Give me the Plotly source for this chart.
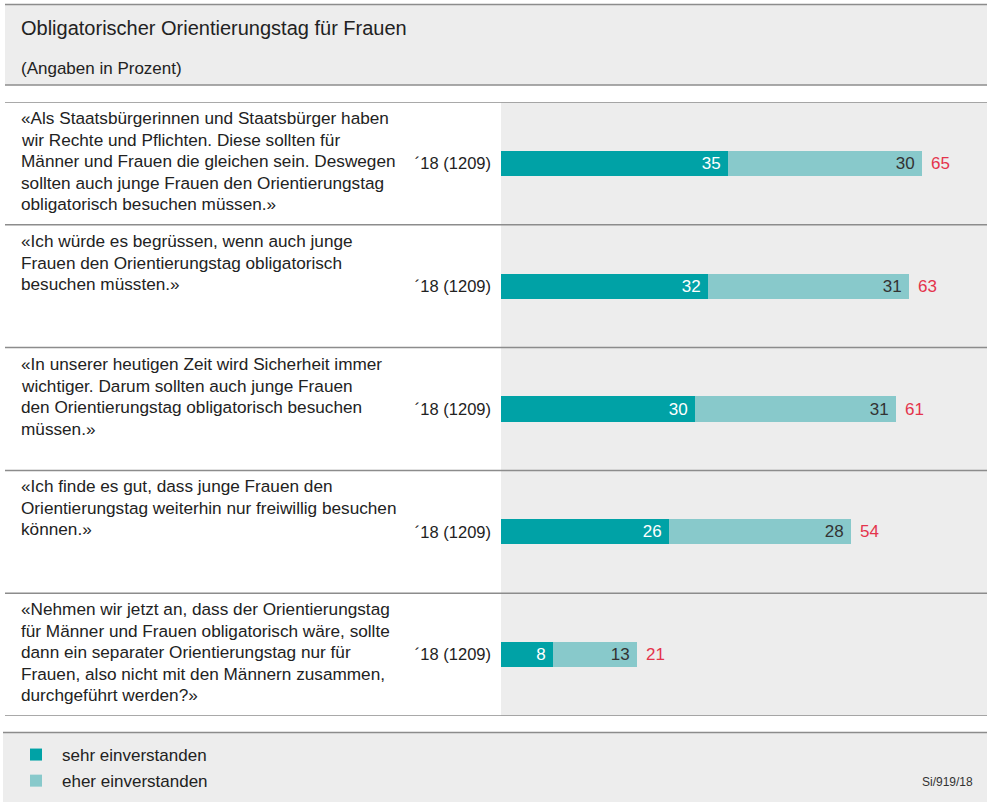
import plotly.graph_objects as go

# --- data ---
statements = [
    ["«Als Staatsbürgerinnen und Staatsbürger haben",
     "wir Rechte und Pflichten. Diese sollten für",
     "Männer und Frauen die gleichen sein. Deswegen",
     "sollten auch junge Frauen den Orientierungstag",
     "obligatorisch besuchen müssen.»"],
    ["«Ich würde es begrüssen, wenn auch junge",
     "Frauen den Orientierungstag obligatorisch",
     "besuchen müssten.»"],
    ["«In unserer heutigen Zeit wird Sicherheit immer",
     "wichtiger. Darum sollten auch junge Frauen",
     "den Orientierungstag obligatorisch besuchen",
     "müssen.»"],
    ["«Ich finde es gut, dass junge Frauen den",
     "Orientierungstag weiterhin nur freiwillig besuchen",
     "können.»"],
    ["«Nehmen wir jetzt an, dass der Orientierungstag",
     "für Männer und Frauen obligatorisch wäre, sollte",
     "dann ein separater Orientierungstag nur für",
     "Frauen, also nicht mit den Männern zusammen,",
     "durchgeführt werden?»"],
]
row_labels = ["´18 (1209)"] * 5
sehr = [35, 32, 30, 26, 8]
eher = [30, 31, 31, 28, 13]
totals = [65, 63, 61, 54, 21]

title = "Obligatorischer Orientierungstag für Frauen"
subtitle = "(Angaben in Prozent)"
source = "Si/919/18"

# --- styling ---
W, H = 987, 803
FONT = "Liberation Sans, Arial, Helvetica, sans-serif"
DARK = "#00a2a6"
LIGHT = "#88c9cb"
RED = "#e4344c"
GREY_BG = "#ededed"
LINE = "#8c8c8c"
TXT = "#222222"

px = lambda x: x / W
py = lambda y: 1 - y / H

rows = list(range(len(sehr)))

fig = go.Figure()
fig.add_trace(go.Bar(
    y=rows, x=sehr, orientation="h", name="sehr einverstanden", legendgroup="a",
    marker=dict(color=DARK, line=dict(width=0)), width=0.205,
    texttemplate="%{x}\u2005", textposition="inside", insidetextanchor="end",
    textfont=dict(color="white", size=17, family=FONT), hoverinfo="skip",
))
fig.add_trace(go.Bar(
    y=rows, x=eher, orientation="h", name="eher einverstanden", legendgroup="b",
    marker=dict(color=LIGHT, line=dict(width=0)), width=0.205,
    texttemplate="%{x}\u2005", textposition="inside", insidetextanchor="end",
    textfont=dict(color="#333333", size=17, family=FONT), hoverinfo="skip",
))

annotations = []
# totals
for r, t in zip(rows, totals):
    annotations.append(dict(x=t, y=r, xref="x", yref="y", text=str(t),
                            showarrow=False, xanchor="left", xshift=7,
                            font=dict(color=RED, size=17, family=FONT)))

# statement text, one line per annotation
row_tops = [102, 225, 348, 470, 593]
for top, lines in zip(row_tops, statements):
    for i, line in enumerate(lines):
        annotations.append(dict(x=px(22), y=py(top + 16 + i * 21.6), xref="paper", yref="paper",
                                text=line, showarrow=False, xanchor="left", yanchor="middle",
                                xshift=-3, font=dict(color=TXT, size=17.2, family=FONT)))

annotations += [
    dict(x=px(22), y=py(28), xref="paper", yref="paper", text=title, showarrow=False,
         xanchor="left", yanchor="middle", xshift=-3, font=dict(color=TXT, size=20, family=FONT)),
    dict(x=px(22), y=py(68), xref="paper", yref="paper", text=subtitle, showarrow=False,
         xanchor="left", yanchor="middle", xshift=-3, font=dict(color=TXT, size=17, family=FONT)),
    dict(x=px(975), y=py(782), xref="paper", yref="paper", text=source, showarrow=False,
         xanchor="right", yanchor="middle", font=dict(color="#333333", size=12, family=FONT)),
]

shapes = [
    dict(type="rect", xref="paper", yref="paper", x0=px(5), x1=1, y0=py(5), y1=py(85),
         fillcolor=GREY_BG, line=dict(width=0), layer="below"),
    dict(type="rect", xref="paper", yref="paper", x0=px(3), x1=1, y0=py(733), y1=py(802),
         fillcolor=GREY_BG, line=dict(width=0), layer="below"),
    dict(type="line", xref="paper", yref="paper", x0=px(5), x1=1, y0=py(4.5), y1=py(4.5),
         line=dict(color=LINE, width=1.5)),
    dict(type="line", xref="paper", yref="paper", x0=px(5), x1=1, y0=py(85), y1=py(85),
         line=dict(color=LINE, width=1.5)),
    dict(type="line", xref="paper", yref="paper", x0=px(3), x1=1, y0=py(732.5), y1=py(732.5),
         line=dict(color=LINE, width=1.5)),
]
for k in range(len(rows) + 1):
    shapes.append(dict(type="line", xref="paper", yref="y", x0=px(5), x1=1,
                       y0=k - 0.5, y1=k - 0.5, line=dict(color=LINE, width=1.5)))

fig.update_layout(
    width=W, height=H, autosize=False,
    margin=dict(l=0, r=0, t=0, b=0),
    paper_bgcolor="white", plot_bgcolor=GREY_BG,
    barmode="stack", bargap=0,
    font=dict(family=FONT, color=TXT),
    xaxis=dict(domain=[px(501), 1], range=[0, 75], visible=False, fixedrange=True),
    yaxis=dict(domain=[py(716), py(102)], range=[4.5, -0.5], tickvals=rows,
               ticktext=row_labels, showgrid=False, zeroline=False, showline=False,
               ticks="", ticklabelstandoff=9, automargin=False,
               tickfont=dict(size=16.5, color=TXT, family=FONT)),
    showlegend=True,
    legend=dict(x=px(10), y=py(737), xanchor="left", yanchor="top",
                bgcolor="rgba(0,0,0,0)", font=dict(size=17, color=TXT, family=FONT),
                traceorder="grouped", itemclick=False, itemdoubleclick=False,
                tracegroupgap=1, itemwidth=42),
    shapes=shapes, annotations=annotations,
)

# page body has a default 8px margin; drop it so the figure fills the window
fig.write_html("out.html", config={"displayModeBar": False},
               post_script="document.body.style.margin='0';")
